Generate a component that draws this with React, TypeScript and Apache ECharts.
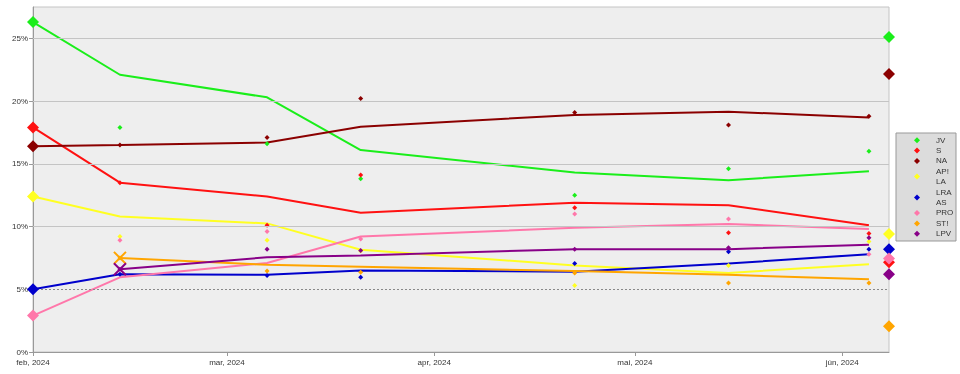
import React, { useEffect, useRef } from "react";
import * as echarts from "echarts";

const parties = ["JV", "S", "NA", "AP!\nLA", "LRA\nAS", "PRO", "ST!", "LPV"];
const colors = ["#1aee1a", "#ff1111", "#8b0000", "#ffff22", "#0000cc", "#ff77aa", "#ffa500", "#880088"];

const startDate = "2024-02-01";
const endDate = "2024-06-08";
const monthTicks = ["2024-02-01", "2024-03-01", "2024-04-01", "2024-05-01", "2024-06-01"];
const monthLabels = ["feb, 2024", "mar, 2024", "apr, 2024", "mai, 2024", "jún, 2024"];
const yTicks = [0, 5, 10, 15, 20, 25];
const yMax = 27.5;
const threshold = 5;

// smoothed trend lines
const trendDates = ["2024-02-01", "2024-02-14", "2024-03-07", "2024-03-21", "2024-04-22", "2024-05-15", "2024-06-05"];
const trendJV = [26.3, 22.1, 20.3, 16.1, 14.3, 13.7, 14.4];
const trendS = [17.9, 13.5, 12.4, 11.1, 11.9, 11.7, 10.1];
const trendNA = [16.4, 16.5, 16.7, 17.95, 18.9, 19.15, 18.7];
const trendAP = [12.4, 10.8, 10.25, 8.15, 6.9, 6.3, 7.0];
const trendLRA = [5.0, 6.2, 6.15, 6.5, 6.4, 7.05, 7.8];
const trendPRO = [2.9, 5.95, 7.1, 9.2, 9.9, 10.2, 9.8];
const trendST = [null, 7.5, 6.95, 6.8, 6.45, 6.15, 5.8];
const trendLPV = [null, 6.6, 7.55, 7.7, 8.2, 8.2, 8.55];

// individual polls
const pollDates = ["2024-02-14", "2024-03-07", "2024-03-21", "2024-04-22", "2024-05-15", "2024-06-05"];
const pollJV = [17.9, 16.6, 13.8, 12.5, 14.6, 16.0];
const pollS = [13.5, 10.1, 14.1, 11.5, 9.5, 9.45];
const pollNA = [16.5, 17.1, 20.2, 19.1, 18.1, 18.8];
const pollAP = [9.2, 8.9, 8.05, 5.3, 6.9, 8.8];
const pollLRA = [6.2, 6.1, 5.95, 7.05, 8.0, 8.2];
const pollPRO = [8.9, 9.6, 9.0, 11.0, 10.6, 7.8];
const pollST = [7.5, 6.45, 6.35, 6.3, 5.5, 5.5];
const pollLPV = [6.6, 8.2, 8.1, 8.2, 8.3, 9.1];

// election results (previous at start, 2024 at end)
const result2019 = [26.3, 17.9, 16.4, 12.4, 5.0, 2.9, null, null];
const result2024 = [25.1, 7.15, 22.15, 9.4, 8.2, 7.45, 2.05, 6.2];

const trends = [trendJV, trendS, trendNA, trendAP, trendLRA, trendPRO, trendST, trendLPV];
const polls = [pollJV, pollS, pollNA, pollAP, pollLRA, pollPRO, pollST, pollLPV];

const FONT = "Liberation Sans, Arial, sans-serif";
const day = (d: string) => Math.round((Date.parse(d) - Date.parse(startDate)) / 86400000);

export default function App() {
  const ref = useRef<HTMLDivElement>(null);
  useEffect(() => {
    if (!ref.current) return;
    const chart = echarts.init(ref.current, undefined, { renderer: "svg" });
    const xMax = day(endDate);
    const tickDays = monthTicks.map(day);

    const series: any[] = [];
    // grid lines
    series.push({
      type: "line",
      data: [],
      z: 0,
      silent: true,
      markLine: {
        silent: true,
        symbol: "none",
        label: { show: false },
        animation: false,
        data: yTicks
          .filter((v) => v > 0)
          .map((v) => ({
            yAxis: v,
            lineStyle: v === threshold
              ? { color: "#888", width: 1, type: [2, 2] }
              : { color: "#c4c4c4", width: 1, type: "solid" },
          })),
      },
    });

    parties.forEach((name, i) => {
      const c = colors[i];
      const tData = trendDates
        .map((d, k) => [day(d), trends[i][k]])
        .filter((p) => p[1] !== null);
      series.push({
        name,
        type: "line",
        data: tData,
        symbol: "none",
        z: 3,
        lineStyle: { color: c, width: 2 },
        itemStyle: { color: c },
      });
      series.push({
        name,
        type: "scatter",
        data: pollDates.map((d, k) => [day(d), polls[i][k]]).filter((p) => p[1] !== null),
        symbol: "diamond",
        symbolSize: 5,
        z: 4,
        itemStyle: { color: c, opacity: 1 },
      });
      const ends: any[] = [];
      if (result2019[i] !== null) ends.push([0, result2019[i]]);
      ends.push([xMax, result2024[i]]);
      series.push({
        name,
        type: "scatter",
        data: ends,
        symbol: "diamond",
        symbolSize: 12,
        z: 5,
        itemStyle: { color: c, opacity: 1 },
      });
      if (result2019[i] === null) {
        series.push({
          name,
          type: "scatter",
          data: [tData[0]],
          symbol: "path://M0,0L10,10M10,0L0,10",
          symbolSize: 12,
          z: 5,
          itemStyle: { color: "rgba(0,0,0,0)", borderColor: c, borderWidth: 2, opacity: 1 },
        });
      }
    });

    // legend drawn as graphic
    const lgX = 896, lgY = 133, lineH = 10.4;
    const legendEls: any[] = [
      { type: "rect", shape: { x: lgX, y: lgY, width: 60, height: 108 }, style: { fill: "#dcdcdc", stroke: "#999", lineWidth: 1 } },
    ];
    let yy = lgY + 2;
    parties.forEach((name, i) => {
      const n = name.split("\n").length;
      const cy = yy + (n * lineH) / 2;
      const cx = 917;
      legendEls.push({
        type: "polygon",
        shape: { points: [[cx, cy - 3], [cx + 3, cy], [cx, cy + 3], [cx - 3, cy]] },
        style: { fill: colors[i] },
      });
      legendEls.push({
        type: "text",
        x: 936,
        y: yy,
        style: { text: name, font: `8px ${FONT}`, fill: "#333", lineHeight: lineH, verticalAlign: "top" },
      });
      yy += n * lineH;
    });

    chart.setOption({
      animation: false,
      textStyle: { fontFamily: FONT },
      grid: {
        left: 33, right: 71, top: 7, bottom: 22,
        show: true, backgroundColor: "#eeeeee", borderColor: "#c4c4c4", borderWidth: 1,
      },
      xAxis: {
        type: "value",
        min: 0,
        max: xMax,
        splitLine: { show: false },
        axisLine: { lineStyle: { color: "#999" } },
        axisTick: { customValues: tickDays, length: 4, lineStyle: { color: "#999" } },
        axisLabel: {
          customValues: tickDays,
          formatter: (v: number) => monthLabels[tickDays.indexOf(Math.round(v))] ?? "",
          fontSize: 8,
          color: "#333",
          margin: 6,
          fontFamily: FONT,
        },
      },
      yAxis: {
        type: "value",
        min: 0,
        max: yMax,
        splitLine: { show: false },
        axisLine: { show: true, lineStyle: { color: "#999" } },
        axisTick: { show: true, customValues: yTicks, length: 4, lineStyle: { color: "#999" } },
        axisLabel: {
          customValues: yTicks,
          formatter: (v: number) => `${v}%`,
          fontSize: 8,
          color: "#333",
          margin: 5,
          fontFamily: FONT,
        },
      },
      graphic: legendEls,
      series,
    });
    return () => chart.dispose();
  }, []);
  return <div ref={ref} style={{ position: "fixed", left: 0, top: 0, width: 960, height: 374 }} />;
}
